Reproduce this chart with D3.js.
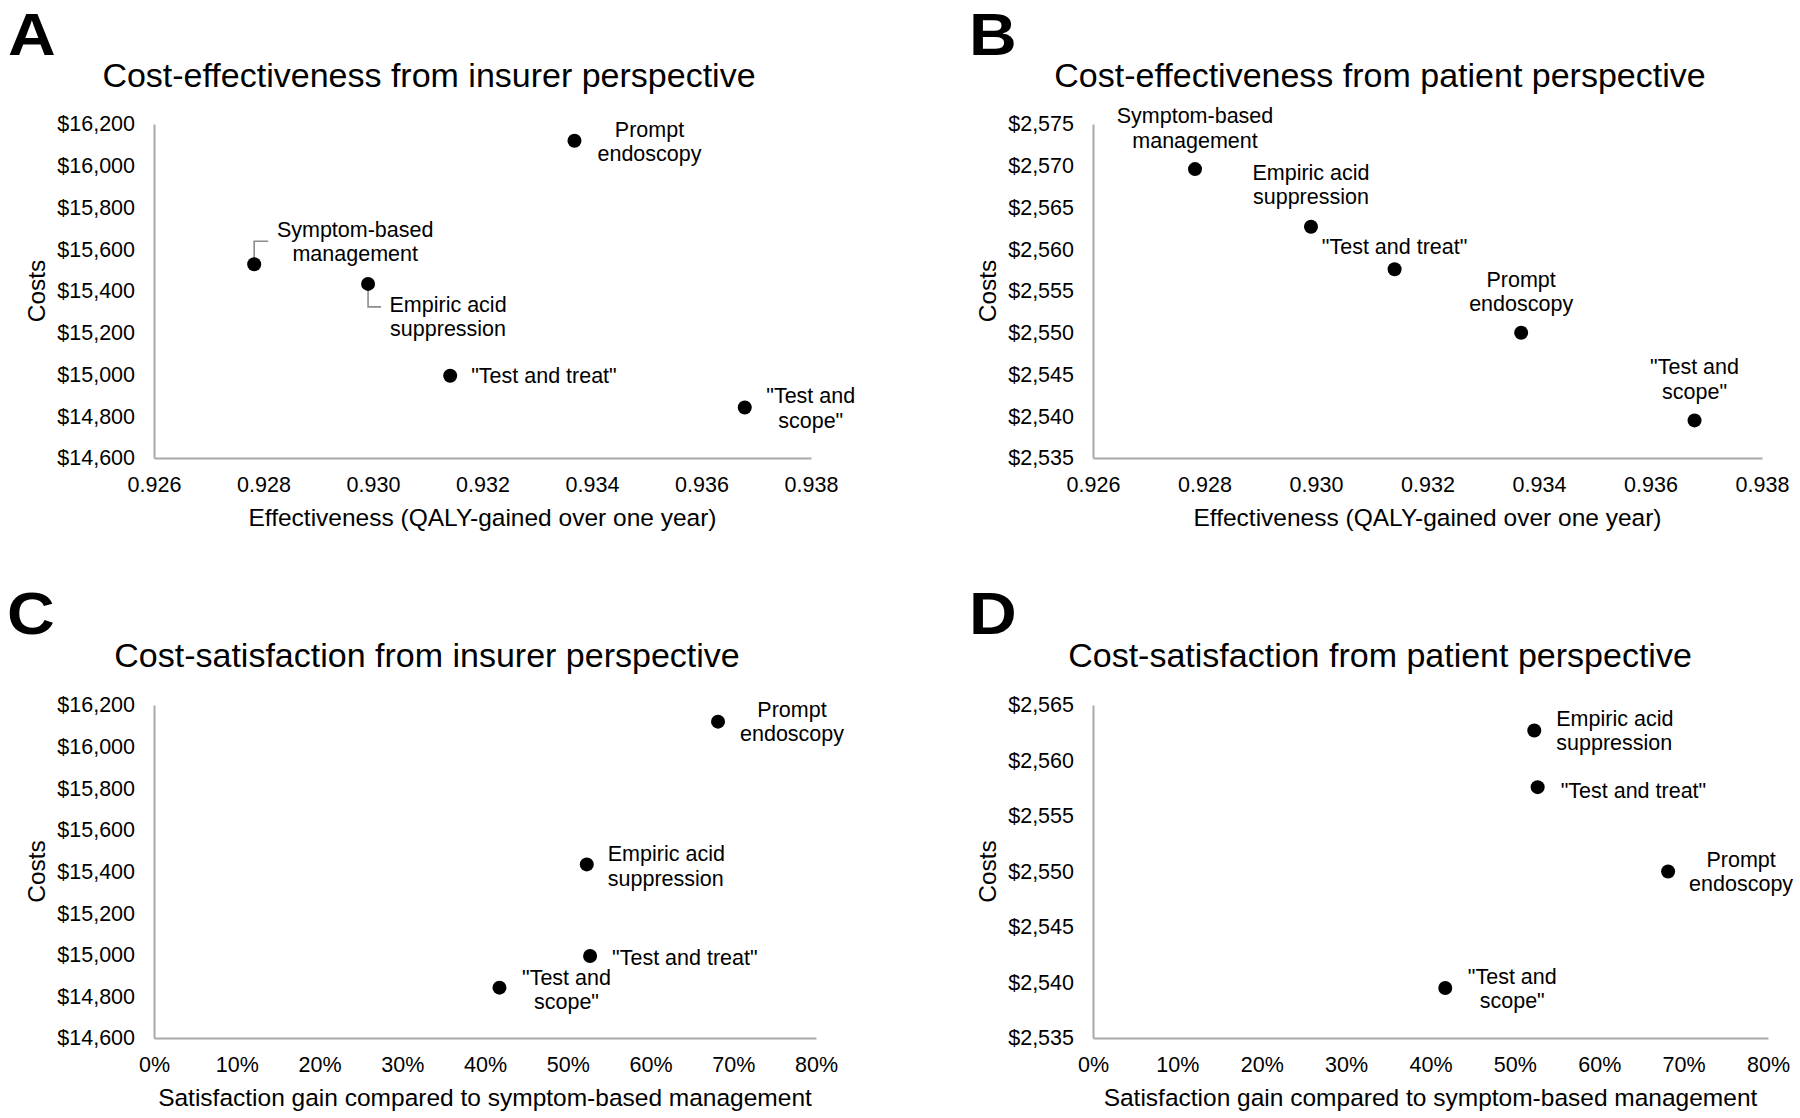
<!DOCTYPE html>
<html>
<head>
<meta charset="utf-8">
<script src="https://cdn.jsdelivr.net/npm/d3@7"></script>
<style>
  body { margin: 0; background: #fff; }
  text { font-family: "Liberation Sans", Arial, sans-serif; fill: #000; }
</style>
</head>
<body>
<div id="chart"></div>
<script>
// ---- data ----
var strategies = ["Symptom-based management", "Empiric acid suppression", "\"Test and treat\"", "Prompt endoscopy", "\"Test and scope\""];
var labelLines = [["Symptom-based", "management"], ["Empiric acid", "suppression"], ["\"Test and treat\""], ["Prompt", "endoscopy"], ["\"Test and", "scope\""]];

var qalyGained = [0.92783, 0.92991, 0.93141, 0.93368, 0.93679];
var insurerCosts = [15528, 15434, 14994, 16120, 14842];
var patientCosts = [2569.6, 2562.7, 2557.6, 2550.0, 2539.5];
// symptom-based management is the reference, so no point in C / D
var satisfactionGain = [null, 0.523, 0.527, 0.6816, 0.4175];

var qalyTicks = [0.926, 0.928, 0.930, 0.932, 0.934, 0.936, 0.938];
var insurerTicks = [14600, 14800, 15000, 15200, 15400, 15600, 15800, 16000, 16200];
var patientTicksB = [2535, 2540, 2545, 2550, 2555, 2560, 2565, 2570, 2575];
var patientTicksD = [2535, 2540, 2545, 2550, 2555, 2560, 2565];
var satisfactionTicks = [0, 0.1, 0.2, 0.3, 0.4, 0.5, 0.6, 0.7, 0.8];

var titles = ["Cost-effectiveness from insurer perspective", "Cost-effectiveness from patient perspective",
              "Cost-satisfaction from insurer perspective", "Cost-satisfaction from patient perspective"];
var xTitles = ["Effectiveness (QALY-gained over one year)", "Satisfaction gain compared to symptom-based management"];

var width = 1800, height = 1118;
var fmtMoney = d3.format("$,"), fmtQaly = d3.format(".3f"), fmtPct = d3.format(".0%");

// label placement for each point (offsets from the marker)
var labelsA = [
    {dx: 101, anchor: "middle", ys: [-35, -11], leader: [[0, -6], [0, -23], [14, -23]]},
    {dx: 80, anchor: "middle", ys: [21, 45], leader: [[0, 6], [0, 23], [13, 23]]},
    {dx: 21, anchor: "start", ys: [0]},
    {dx: 75, anchor: "middle", ys: [-11, 13]},
    {dx: 66, anchor: "middle", ys: [-12, 13]}
];
var labelsB = [
    {dx: 0, anchor: "middle", ys: [-54, -29]},
    {dx: 0, anchor: "middle", ys: [-54, -30]},
    {dx: 0, anchor: "middle", ys: [-23]},
    {dx: 0, anchor: "middle", ys: [-53, -29]},
    {dx: 0, anchor: "middle", ys: [-54, -29]}
];
var labelsC = [
    null,
    {dx: 21, anchor: "start", ys: [-11, 14]},
    {dx: 22, anchor: "start", ys: [1]},
    {dx: 74, anchor: "middle", ys: [-12, 12]},
    {dx: 67, anchor: "middle", ys: [-10, 14]}
];
var labelsD = [
    null,
    {dx: 22, anchor: "start", ys: [-12, 12]},
    {dx: 23, anchor: "start", ys: [3]},
    {dx: 73, anchor: "middle", ys: [-12, 12]},
    {dx: 67, anchor: "middle", ys: [-12, 12]}
];

var panels = [
    {letter: "A", lx: 8, ly: 55, title: titles[0], tx: 429, ty: 75, costX: 36,
     box: {l: 154, t: 124, r: 811, b: 458}, xs: qalyGained, ys: insurerCosts,
     xTicks: qalyTicks, yTicks: insurerTicks, xFmt: fmtQaly, xTitle: xTitles[0], labels: labelsA},
    {letter: "B", lx: 969, ly: 55, title: titles[1], tx: 1380, ty: 75, costX: 987,
     box: {l: 1093, t: 124, r: 1762, b: 458}, xs: qalyGained, ys: patientCosts,
     xTicks: qalyTicks, yTicks: patientTicksB, xFmt: fmtQaly, xTitle: xTitles[0], labels: labelsB},
    {letter: "C", lx: 7, ly: 634, title: titles[2], tx: 427, ty: 655, costX: 36,
     box: {l: 154, t: 705, r: 816, b: 1038}, xs: satisfactionGain, ys: insurerCosts,
     xTicks: satisfactionTicks, yTicks: insurerTicks, xFmt: fmtPct, xTitle: xTitles[1], labels: labelsC},
    {letter: "D", lx: 969, ly: 634, title: titles[3], tx: 1380, ty: 655, costX: 987,
     box: {l: 1093, t: 705, r: 1768, b: 1038}, xs: satisfactionGain, ys: patientCosts,
     xTicks: satisfactionTicks, yTicks: patientTicksD, xFmt: fmtPct, xTitle: xTitles[1], labels: labelsD}
];

var svg = d3.select("#chart").append("svg")
    .attr("width", width)
    .attr("height", height);

panels.forEach(function (p) {
    var g = svg.append("g");
    var b = p.box;

    var x = d3.scaleLinear().domain(d3.extent(p.xTicks)).range([b.l, b.r]);
    var y = d3.scaleLinear().domain(d3.extent(p.yTicks)).range([b.b, b.t]);

    // panel letter (a bit wider than plain Arial bold)
    g.append("text")
        .attr("transform", "translate(" + p.lx + "," + p.ly + ") scale(1.12,1)")
        .style("font-weight", "bold")
        .style("font-size", "59px")
        .text(p.letter);

    // title
    g.append("text")
        .attr("x", p.tx).attr("y", p.ty).attr("dy", "0.35em")
        .attr("text-anchor", "middle")
        .style("font-size", "34px")
        .text(p.title);

    // axes
    var yAxis = g.append("g")
        .attr("transform", "translate(" + b.l + ",0)")
        .call(d3.axisLeft(y).tickValues(p.yTicks).tickFormat(fmtMoney).tickSize(0).tickPadding(19));
    var xAxis = g.append("g")
        .attr("transform", "translate(0," + b.b + ")")
        .call(d3.axisBottom(x).tickValues(p.xTicks).tickFormat(p.xFmt).tickSize(0).tickPadding(19));

    [xAxis, yAxis].forEach(function (a) {
        a.select(".domain").attr("stroke", "#a9a9a9").attr("stroke-width", 2);
        a.selectAll("text")
            .attr("fill", "#000")
            .style("font-family", "'Liberation Sans', Arial, sans-serif")
            .style("font-size", "21.5px");
    });

    // axis titles
    g.append("text")
        .attr("x", (b.l + b.r) / 2).attr("y", b.b + 59).attr("dy", "0.35em")
        .attr("text-anchor", "middle")
        .style("font-size", "24.5px")
        .text(p.xTitle);
    g.append("text")
        .attr("transform", "translate(" + p.costX + "," + (b.t + b.b) / 2 + ") rotate(-90)")
        .attr("dy", "0.35em")
        .attr("text-anchor", "middle")
        .style("font-size", "24.5px")
        .text("Costs");

    // points
    var pts = strategies.map(function (s, i) {
        return {name: s, vx: p.xs[i], vy: p.ys[i], lines: labelLines[i], pos: p.labels[i]};
    }).filter(function (d) { return d.vx != null && d.pos; });

    // leader lines
    var line = d3.line();
    g.selectAll("path.leader")
        .data(pts.filter(function (d) { return d.pos.leader; }))
        .enter().append("path")
        .attr("class", "leader")
        .attr("fill", "none")
        .attr("stroke", "#8c8c8c")
        .attr("stroke-width", 1.6)
        .attr("d", function (d) {
            var cx = x(d.vx), cy = y(d.vy);
            return line(d.pos.leader.map(function (o) { return [cx + o[0], cy + o[1]]; }));
        });

    g.selectAll("circle.pt")
        .data(pts)
        .enter().append("circle")
        .attr("class", "pt")
        .attr("cx", function (d) { return x(d.vx); })
        .attr("cy", function (d) { return y(d.vy); })
        .attr("r", 7)
        .attr("fill", "#000");

    var lbl = g.selectAll("text.lbl")
        .data(pts)
        .enter().append("text")
        .attr("class", "lbl")
        .attr("text-anchor", function (d) { return d.pos.anchor; })
        .style("font-size", "21.5px");

    lbl.each(function (d) {
        var t = d3.select(this);
        d.lines.forEach(function (ln, k) {
            t.append("tspan")
                .attr("x", x(d.vx) + d.pos.dx)
                .attr("y", y(d.vy) + d.pos.ys[k])
                .attr("dy", "0.35em")
                .text(ln);
        });
    });
});
</script>
</body>
</html>
